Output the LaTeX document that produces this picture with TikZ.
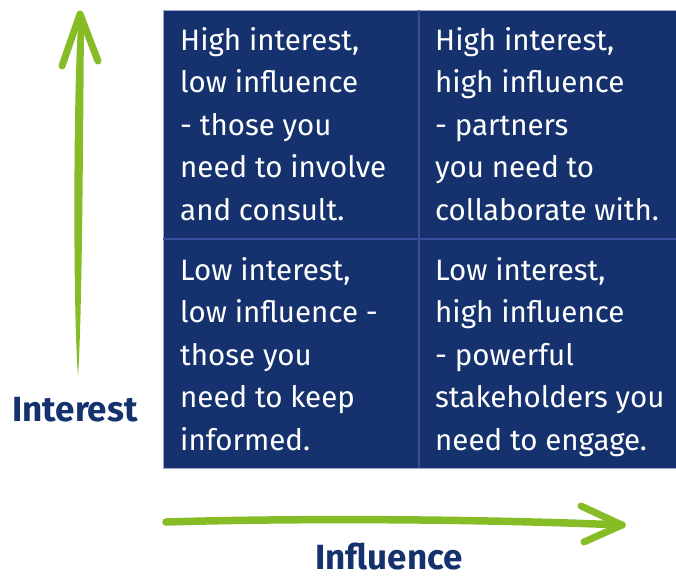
\documentclass[tikz,border=0pt]{standalone}
\usepackage{fontspec}
\setmainfont{Fira Sans}
\usetikzlibrary{positioning}
\definecolor{navy}{HTML}{15326F}
\definecolor{gridline}{HTML}{3B4B9B}
\definecolor{leaf}{HTML}{86BC26}

\begin{document}
\begin{tikzpicture}[
  x=1pt, y=-1pt,
  quadrant/.style={fill=navy, rectangle, minimum height=229pt, inner sep=0pt, outer sep=0pt},
  celltext/.style={white, anchor=north west, align=left, inner sep=0pt,
    font=\fontsize{29.5}{42.5}\selectfont},
  axislabel/.style={navy, anchor=base, inner sep=0pt, text depth=0pt,
    font=\fontsize{35}{40}\selectfont\bfseries},
  sketch/.style={leaf, line width=7pt, line cap=round, line join=round},
]
\useasboundingbox (0,0) rectangle (676,576);

% the four quadrants
\node (lowhigh) [quadrant, minimum width=256pt] at (291,124.5) {};
\node (highhigh) [quadrant, minimum width=257pt, right=0pt of lowhigh] {};
\node (lowlow) [quadrant, minimum width=256pt, below=0pt of lowhigh] {};
\node (highlow) [quadrant, minimum width=257pt, below=0pt of highhigh] {};

\draw[gridline!50, line width=0.6pt]
  (lowlow.south west) rectangle (highhigh.north east);
\draw[gridline, line width=2pt]
  (lowhigh.north east) -- (lowlow.south east)
  (lowhigh.south west) -- (highhigh.south east);

\node (t1) [celltext] at ([xshift=17pt, yshift=-17pt]lowhigh.north west)
  {High interest,\\low influence\\- those you\\need to involve\\and consult.};
\node (t2) [celltext] at ([xshift=16pt, yshift=-17pt]highhigh.north west)
  {High interest,\\high influence\\- partners\\you need to\\collaborate with.};
\node (t3) [celltext] at ([xshift=17pt, yshift=-18pt]lowlow.north west)
  {Low interest,\\low influence -\\those you\\need to keep\\informed.};
\node (t4) [celltext] at ([xshift=16pt, yshift=-18pt]highlow.north west)
  {Low interest,\\high influence\\- powerful\\stakeholders you\\need to engage.};

% axis arrows
\coordinate (itip) at (80,14);
\coordinate (ibot) at (78,376);
\coordinate (ileft) at (62,66);
\coordinate (iright) at (98,61);
\fill[leaf] (itip) .. controls (74,22) and (72,300) .. (ibot)
  .. controls (82,320) and (83,150) .. (84,22) -- cycle;
\draw[sketch] (ileft) -- (itip) -- (iright);

\coordinate (hleft) at (166,522);
\coordinate (htip) at (622,525);
\coordinate (hup) at (581,506);
\coordinate (hdown) at (584,542);
\draw[sketch, line width=7.5pt] (hleft) .. controls (300,518) and (480,519) .. (htip);
\draw[sketch] (hup) -- (htip) -- (hdown);

\node (interest) [axislabel] at (75,421) {Interest};
\node (influence) [axislabel] at (389,569) {Influence};
\end{tikzpicture}
\end{document}
